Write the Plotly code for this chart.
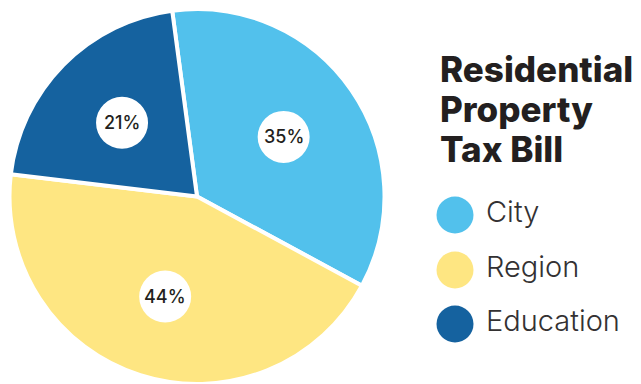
import math
import plotly.graph_objects as go

categories = ["City", "Region", "Education"]
values = [35, 44, 21]
colors = ["#52C1EC", "#FEE682", "#15629F"]
title_lines = ["Residential", "Property", "Tax Bill"]

W, H = 641, 384
# pie placement in pixels
px0, px1 = 9, 385
py0, py1 = 9, 384  # from top
rotation = -7.6
label_frac = 0.56
label_r = 26  # px

fig = go.Figure()
fig.add_trace(go.Pie(
    labels=categories, values=values, sort=False, direction="clockwise",
    rotation=rotation, textinfo="none", hoverinfo="skip", showlegend=False,
    marker=dict(colors=colors, line=dict(color="white", width=4)),
    domain=dict(x=[px0 / W, px1 / W], y=[1 - py1 / H, 1 - py0 / H]),
))

# label circles at slice mid-angles
total = sum(values)
acc = 0
for v in values:
    mid = math.radians(rotation + 360 * (acc + v / 2) / total)
    acc += v
    cx = label_frac * math.sin(mid)
    cy = label_frac * math.cos(mid)
    fig.add_shape(type="circle", xref="x", yref="y",
                  xsizemode="pixel", ysizemode="pixel", xanchor=cx, yanchor=cy,
                  x0=-label_r, x1=label_r, y0=-label_r, y1=label_r,
                  fillcolor="white", line=dict(width=0), layer="above")
    fig.add_annotation(x=cx, y=cy, xref="x", yref="y", showarrow=False,
                       text=f"{round(100 * v / total)}%",
                       font=dict(family="Inter", size=18, color="#231F20", weight=500))

# custom legend
leg_y = [215, 270, 324]
fig.add_trace(go.Scatter(
    x=[455] * len(categories), y=leg_y, mode="markers",
    marker=dict(size=37, color=colors, line=dict(width=0)),
    hoverinfo="skip", showlegend=False, xaxis="x2", yaxis="y2",
))
fig.add_trace(go.Scatter(
    x=[486] * len(categories), y=leg_y, mode="text", text=categories,
    textposition="middle right",
    textfont=dict(family="Inter", size=29, color="#333132", weight=300),
    hoverinfo="skip", showlegend=False, xaxis="x2", yaxis="y2",
))

title_y = [69, 109, 149]
for line, ty in zip(title_lines, title_y):
    fig.add_annotation(
        text=line, xref="x2", yref="y2", x=438, y=ty, xanchor="left", yanchor="middle",
        align="left", showarrow=False,
        font=dict(family="Inter", size=35, color="#231F20", weight=800),
    )

hidden = dict(visible=False, fixedrange=True)
fig.update_layout(
    width=W, height=H, margin=dict(l=0, r=0, t=0, b=0),
    paper_bgcolor="white", plot_bgcolor="rgba(0,0,0,0)",
    xaxis=dict(domain=[px0 / W, px1 / W], range=[-1, 1], anchor="y", **hidden),
    yaxis=dict(domain=[1 - py1 / H, 1 - py0 / H], range=[-1, 1], anchor="x", **hidden),
    xaxis2=dict(domain=[0, 1], range=[0, W], anchor="y2", **hidden),
    yaxis2=dict(domain=[0, 1], range=[H, 0], anchor="x2", **hidden),
    hovermode=False,
)

fig.write_html("out.html", config={"displayModeBar": False})
